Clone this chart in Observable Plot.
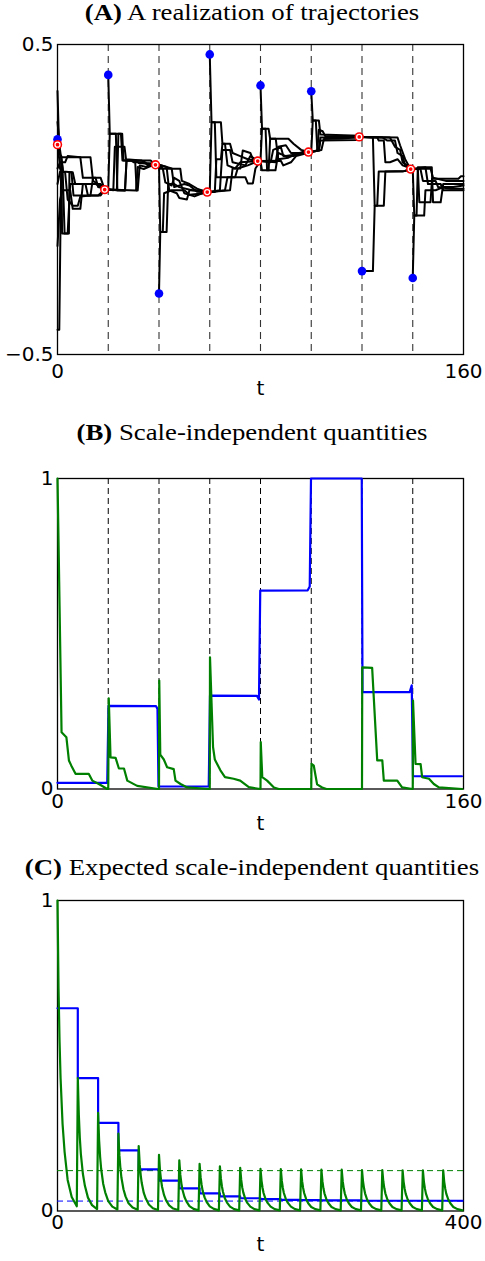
<!DOCTYPE html>
<html><head><meta charset="utf-8">
<script src="https://cdn.jsdelivr.net/npm/d3@7"></script>
<script src="https://cdn.jsdelivr.net/npm/@observablehq/plot@0.6"></script>
<style>
html,body{margin:0;padding:0;background:#fff;}
#root{position:relative;width:485px;height:1261px;overflow:hidden;background:#fff;}
.title{position:absolute;left:252px;white-space:nowrap;font-family:"Liberation Serif","Times New Roman",serif;font-size:22.5px;line-height:1;transform:translateX(-50%) scaleX(1.19);color:#000;}
.panel{position:absolute;left:0;}
</style></head><body><div id="root"></div>
<script>
// ---------- Panel A data ----------
const epochStarts = [20, 40, 60, 80, 100, 120, 140];
const xTicksA = [0, 160];
const yTicksA = [-0.5, 0.5];
const blueA = [[0,0.194],[20,0.402],[40,-0.303],[60,0.468],[80,0.368],[100,0.349],[120,-0.231],[140,-0.253]];
const redA = [[0,0.177],[18.6,0.032],[38.6,0.112],[59,0.024],[78.9,0.124],[98.9,0.153],[118.9,0.202],[139.2,0.098]];

const epochA0 = [
 [[0,0.35],[0.7,0.15],[1.6,0.136],[13,0.136],[14,0.06],[16,0.05],[18,0.04],[20,0.032]],
 [[0,-0.42],[0.7,-0.42],[1.5,0.14],[2.2,0.09],[5.5,0.088],[6.3,0.013],[17,0.013],[18.6,0.032],[20,0.032]],
 [[0,0.19],[1,0.1],[1.6,0.088],[1.8,-0.11],[4.5,-0.11],[4.7,0.088],[6,0.088],[7,0.05],[17,0.05],[18.6,0.032],[20,0.032]],
 [[0,0.05],[1,0.09],[3,0.088],[4,0.0],[6,-0.02],[8,-0.02],[9,0.01],[13,0.013],[14,0.07],[17,0.07],[18.6,0.032],[20,0.032]],
 [[0,-0.15],[1,0.0],[2,0.03],[5,0.03],[6,-0.03],[9,-0.03],[10,0.05],[15,0.05],[18.6,0.032],[20,0.032]],
 [[0,0.25],[1,0.16],[2,0.1],[2.8,-0.11],[4,-0.11],[5,0.05],[11,0.05],[12,0.013],[16,0.013],[18.6,0.032],[20,0.032]],
 [[0,0.1],[1,0.12],[3,0.12],[4,0.14],[9,0.136],[10,0.07],[15,0.07],[16,0.04],[20,0.032]]
];
const epochA1 = [
 [[20,0.402],[20.6,0.212],[25.5,0.212],[26,0.126],[36.7,0.126],[38.6,0.112],[40,0.112]],
 [[20,0.032],[20.6,0.212],[23,0.212],[23.6,0.029],[26.6,0.029],[27.2,0.126],[31,0.126],[32,0.118],[36,0.115],[38.6,0.112],[40,0.112]],
 [[20,0.032],[26.6,0.029],[27.2,0.126],[30.6,0.126],[31.2,0.029],[31.6,0.029],[32.4,0.11],[35,0.105],[36.5,0.116],[40,0.112]],
 [[20,0.032],[31,0.029],[31.6,0.105],[34,0.098],[36,0.105],[38,0.112],[40,0.112]],
 [[20,0.032],[23.4,0.03],[24,0.212],[25,0.212],[25.6,0.126],[29,0.126],[30,0.12],[34,0.12],[36,0.11],[40,0.112]],
 [[20,0.032],[22,0.03],[22.6,0.17],[26.4,0.17],[27,0.13],[33,0.126],[35,0.118],[40,0.112]]
];
const epochA2 = [
 [[40,-0.303],[40.5,-0.105],[43,-0.105],[43.6,0.05],[46,0.05],[48,0.04],[53,0.03],[57,0.025],[60,0.024]],
 [[40,0.112],[40.5,-0.105],[41.5,-0.105],[42,0.02],[45,0.03],[50,0.03],[52,0.015],[58,0.02],[60,0.024]],
 [[40,0.112],[40.5,0.099],[48.4,0.099],[49,0.06],[52,0.05],[55,0.035],[58,0.026],[60,0.024]],
 [[40,0.112],[41.5,0.1],[42.5,0.055],[45,0.045],[46,0.07],[48,0.06],[50,0.02],[54,0.01],[57,0.02],[60,0.024]],
 [[40,0.112],[43,0.105],[44,0.03],[47,0.02],[48,0.005],[51,0.0],[52,0.03],[56,0.03],[60,0.024]],
 [[40,0.112],[45,0.1],[46,0.04],[50,0.05],[52,0.045],[55,0.025],[60,0.024]]
];
const epochA3 = [
 [[60,0.468],[60.7,0.249],[64.4,0.249],[65,0.18],[68,0.18],[69,0.15],[72,0.14],[75,0.13],[79,0.124],[80,0.124]],
 [[60,0.024],[60.7,0.249],[62,0.249],[62.6,0.072],[70,0.072],[71,0.1],[75,0.11],[79,0.124],[80,0.124]],
 [[60,0.024],[62,0.024],[62.6,0.13],[64.4,0.13],[65,0.18],[66,0.18],[67,0.11],[70,0.1],[72,0.12],[80,0.124]],
 [[60,0.024],[64,0.03],[65,0.16],[68,0.16],[69,0.12],[74,0.11],[76,0.14],[78,0.13],[80,0.124]],
 [[60,0.024],[66,0.03],[67,0.072],[74,0.072],[75,0.052],[77,0.052],[78,0.1],[80,0.124]],
 [[60,0.024],[68,0.03],[69,0.1],[72,0.1],[73,0.158],[76,0.15],[77,0.13],[80,0.124]]
];
const epochA4 = [
 [[80,0.368],[80.6,0.228],[83.2,0.228],[83.8,0.196],[91,0.196],[93,0.18],[96,0.16],[99,0.153],[100,0.153]],
 [[80,0.124],[80.6,0.228],[82,0.228],[82.6,0.094],[85.9,0.094],[87,0.15],[90,0.14],[94,0.145],[100,0.153]],
 [[80,0.124],[80.6,0.094],[83.2,0.094],[83.8,0.196],[86,0.196],[87,0.13],[91,0.135],[95,0.15],[100,0.153]],
 [[80,0.124],[84,0.12],[85,0.16],[88,0.17],[89,0.14],[93,0.14],[97,0.155],[100,0.153]],
 [[80,0.124],[86,0.12],[87,0.17],[90,0.175],[92,0.15],[98,0.15],[100,0.153]],
 [[80,0.124],[88,0.125],[89,0.11],[92,0.12],[94,0.14],[100,0.153]]
];
const epochA5 = [
 [[100,0.349],[100.6,0.255],[103,0.255],[103.6,0.21],[119,0.206],[120,0.202]],
 [[100,0.153],[100.6,0.255],[101.8,0.255],[102.4,0.157],[103,0.157],[103.6,0.2],[119,0.2],[120,0.202]],
 [[100,0.153],[102.4,0.157],[103,0.225],[104.5,0.22],[105.5,0.205],[119,0.204],[120,0.202]],
 [[100,0.153],[103,0.16],[103.6,0.19],[118,0.192],[120,0.202]],
 [[100,0.153],[104,0.16],[105,0.195],[112,0.197],[120,0.202]]
];
const epochA6 = [
 [[120,-0.231],[124.3,-0.231],[125,-0.02],[128.6,-0.02],[129.2,0.09],[137,0.092],[139,0.098],[140,0.098]],
 [[120,0.202],[124.3,0.2],[125,-0.02],[126,-0.02],[126.6,0.09],[136,0.09],[138,0.095],[140,0.098]],
 [[120,0.202],[126,0.2],[126.6,0.19],[128.6,0.19],[129.2,0.12],[131,0.12],[134,0.13],[136,0.11],[140,0.098]],
 [[120,0.202],[128,0.2],[130,0.19],[133,0.19],[134,0.15],[136,0.14],[137,0.11],[140,0.098]],
 [[120,0.202],[131,0.2],[133,0.17],[135,0.16],[136,0.12],[140,0.098]],
 [[120,0.202],[134,0.2],[135,0.175],[137,0.13],[139,0.1],[140,0.098]]
];
const epochA7 = [
 [[140,-0.253],[140.6,-0.052],[144.5,-0.052],[145,0.03],[149,0.03],[152,0.04],[156,0.04],[160,0.045]],
 [[140,0.098],[140.6,-0.052],[141.5,-0.052],[142,0.104],[147.5,0.104],[148,-0.009],[151,-0.009],[152,0.05],[157,0.05],[160,0.05]],
 [[140,0.098],[142,0.1],[142.6,-0.009],[147,-0.009],[147.6,0.067],[158,0.067],[159,0.075],[160,0.075]],
 [[140,0.098],[143,0.1],[144,0.06],[149,0.06],[150,0.04],[155,0.035],[160,0.035]],
 [[140,0.098],[145,0.104],[146,0.05],[151,0.05],[152,0.03],[160,0.03]],
 [[140,0.098],[147,0.1],[148,0.07],[153,0.06],[160,0.06]]
];
const epochsA = [epochA0, epochA1, epochA2, epochA3, epochA4, epochA5, epochA6, epochA7];

// ---------- Panel B data ----------
const xTicksB = [0, 160];
const yTicksB = [0, 1];
const blueB = [[0,0.02],[19.6,0.02],[20.1,0.268],[38.8,0.267],[39.4,0.258],[39.8,0.008],[59.6,0.008],[60.1,0.301],[78.6,0.3],[79.4,0.288],[79.9,0.639],[98.6,0.64],[99.4,0.652],[99.9,1.0],[119.9,1.0],[120.2,0.312],[138.8,0.312],[139.6,0.334],[140.1,0.041],[159.4,0.041]];
const greenB0 = [[0,1.0],[0.5,0.75],[1.6,0.183],[3.5,0.167],[4.5,0.092],[5.4,0.076],[7.1,0.049],[12.3,0.049],[13.7,0.027],[16.3,0.016],[19.6,0.0]];
const greenB1 = [[20,0.0],[20.2,0.292],[20.9,0.102],[22.9,0.1],[24.2,0.066],[26.2,0.066],[27.5,0.027],[31.4,0.01],[39.6,0.0]];
const greenB2 = [[40,0.0],[40.1,0.349],[40.5,0.111],[41.9,0.095],[43.2,0.07],[45.8,0.064],[46.5,0.027],[48.5,0.016],[51.1,0.005],[59.6,0.0]];
const greenB3 = [[60,0.0],[60.1,0.424],[61.3,0.135],[62,0.095],[64.2,0.06],[66,0.038],[69.4,0.033],[72,0.027],[75.4,0.006],[79.8,0.0]];
const greenB4 = [[80,0.0],[80.1,0.151],[80.7,0.038],[82.6,0.027],[85.3,0.005],[87.2,0.0],[99.8,0.0]];
const greenB5 = [[100,0.0],[100.1,0.081],[101,0.075],[102.3,0.015],[104.3,0.005],[106,0.0],[119.8,0.0]];
const greenB6 = [[120,0.0],[120.1,0.392],[124,0.39],[126,0.092],[128,0.092],[128.6,0.027],[133.9,0.027],[135.8,0.005],[139.8,0.0]];
const greenB7 = [[140,0.0],[140.1,0.285],[141.1,0.081],[143.1,0.08],[143.7,0.038],[146.4,0.033],[148.3,0.016],[150.3,0.005],[159.5,0.0]];
const greenB = [greenB0, greenB1, greenB2, greenB3, greenB4, greenB5, greenB6, greenB7];

// ---------- Panel C data ----------
const xTicksC = [0, 400];
const yTicksC = [0, 1];
const epochTimesC = [0,20,40,60,80,100,120,140,160,180,200,220,240,260,280,300,320,340,360,380];
const blueLevelsC = [0.653,0.428,0.284,0.195,0.134,0.098,0.073,0.057,0.047,0.041,0.038,0.036,0.035,0.034,0.034,0.033,0.033,0.033,0.033,0.033];
const blueEndC = [399, 0.033];
const blueLimitC = 0.032;
const greenLimitC = 0.13;
const spikeOffsetsC = [0,1,2,3,5,7,10,14,19];
const greenSpikesC = [
 [1.0, 0.72, 0.55, 0.43, 0.28, 0.19, 0.10, 0.045, 0.015],
 [0.428, 0.31, 0.235, 0.184, 0.12, 0.081, 0.043, 0.019, 0.006],
 [0.316, 0.228, 0.174, 0.136, 0.088, 0.06, 0.032, 0.014, 0.005],
 [0.249, 0.179, 0.137, 0.107, 0.07, 0.047, 0.025, 0.011, 0.004],
 [0.209, 0.15, 0.115, 0.09, 0.058, 0.04, 0.021, 0.009, 0.003],
 [0.181, 0.13, 0.1, 0.078, 0.051, 0.034, 0.018, 0.008, 0.003],
 [0.163, 0.117, 0.09, 0.07, 0.046, 0.031, 0.016, 0.007, 0.002],
 [0.152, 0.109, 0.084, 0.065, 0.043, 0.029, 0.015, 0.007, 0.002],
 [0.144, 0.104, 0.079, 0.062, 0.04, 0.027, 0.014, 0.006, 0.002],
 [0.139, 0.1, 0.076, 0.06, 0.039, 0.026, 0.014, 0.006, 0.002],
 [0.136, 0.098, 0.075, 0.058, 0.038, 0.026, 0.014, 0.006, 0.002],
 [0.135, 0.097, 0.074, 0.058, 0.038, 0.026, 0.014, 0.006, 0.002],
 [0.134, 0.096, 0.074, 0.058, 0.038, 0.025, 0.013, 0.006, 0.002],
 [0.133, 0.096, 0.073, 0.057, 0.037, 0.025, 0.013, 0.006, 0.002],
 [0.133, 0.096, 0.073, 0.057, 0.037, 0.025, 0.013, 0.006, 0.002],
 [0.132, 0.095, 0.073, 0.057, 0.037, 0.025, 0.013, 0.006, 0.002],
 [0.132, 0.095, 0.073, 0.057, 0.037, 0.025, 0.013, 0.006, 0.002],
 [0.131, 0.094, 0.072, 0.056, 0.037, 0.025, 0.013, 0.006, 0.002],
 [0.131, 0.094, 0.072, 0.056, 0.037, 0.025, 0.013, 0.006, 0.002],
 [0.131, 0.094, 0.072, 0.056, 0.037, 0.025, 0.013, 0.006, 0.002]
];

// ---------- build ----------
const BLUE = "#0000ff", GREEN = "#008000", RED = "#ff0000";
const fmt = d => (d < 0 ? "\u2212" : "") + Math.abs(d);
const baseStyle = {fontFamily: "'DejaVu Sans', sans-serif", fontSize: "20px", background: "white", overflow: "visible", color: "black"};

const rowsA = epochsA.flatMap((ep, e) => ep.flatMap((path, i) => path.map(([t, v]) => ({t, v, id: e * 100 + i}))));
const rowsGreenB = greenB.flat().map(([t, v]) => ({t, v}));
const rowsBlueB = blueB.map(([t, v]) => ({t, v}));
const rowsBlueC = epochTimesC.map((t, k) => ({t, v: blueLevelsC[k]})).concat([{t: blueEndC[0], v: blueEndC[1]}]);
const rowsGreenC = epochTimesC.flatMap((t0, k) => greenSpikesC[k].map((v, i) => ({t: t0 + spikeOffsetsC[i], v})));

function axes(xt, yt, padX, labelDy) {
  return [
    Plot.axisY(yt, {tickSize: 0, tickPadding: 4, fontSize: 20, tickFormat: fmt, label: null}),
    Plot.axisX(xt, {tickSize: 0, tickPadding: padX, fontSize: 20, tickFormat: fmt, label: null}),
    Plot.text(["t"], {text: d => d, frameAnchor: "bottom", dy: labelDy, fontSize: 20})
  ];
}

const plotA = Plot.plot({
  width: 485, height: 385,
  marginLeft: 57, marginRight: 22, marginTop: 14, marginBottom: 61,
  x: {domain: [0, 160]}, y: {domain: [-0.5, 0.5]},
  style: baseStyle,
  marks: [
    Plot.ruleX(epochStarts, {stroke: "#333", strokeWidth: 1.1, strokeDasharray: "7,5"}),
    Plot.line(rowsA, {x: "t", y: "v", z: "id", stroke: "black", strokeWidth: 2}),
    Plot.frame({stroke: "black", strokeWidth: 1.3}),
    Plot.dot(blueA, {x: d => d[0], y: d => d[1], r: 4.3, fill: BLUE, stroke: "none"}),
    Plot.dot(redA, {x: d => d[0], y: d => d[1], r: 4.7, fill: RED, stroke: "none"}),
    Plot.dot(redA, {x: d => d[0], y: d => d[1], r: 2.5, fill: "none", stroke: "white", strokeWidth: 1.3}),
    ...axes(xTicksA, yTicksA, 9, 40)
  ]
});

const plotB = Plot.plot({
  width: 485, height: 395,
  marginLeft: 57, marginRight: 22, marginTop: 23, marginBottom: 61.5,
  x: {domain: [0, 160]}, y: {domain: [0, 1]},
  style: baseStyle,
  marks: [
    Plot.ruleX(epochStarts, {stroke: "black", strokeWidth: 1, strokeDasharray: "6,4"}),
    Plot.frame({stroke: "black", strokeWidth: 1.3}),
    Plot.line(rowsBlueB, {x: "t", y: "v", stroke: BLUE, strokeWidth: 2.2}),
    Plot.line(rowsGreenB, {x: "t", y: "v", stroke: GREEN, strokeWidth: 2.2}),
    ...axes(xTicksB, yTicksB, 5, 41)
  ]
});

const plotC = Plot.plot({
  width: 485, height: 376,
  marginLeft: 57, marginRight: 22, marginTop: 15, marginBottom: 50.5,
  x: {domain: [0, 400]}, y: {domain: [0, 1]},
  style: baseStyle,
  marks: [
    Plot.frame({stroke: "black", strokeWidth: 1.3}),
    Plot.ruleY([greenLimitC], {stroke: GREEN, strokeWidth: 1, strokeDasharray: "6,4"}),
    Plot.ruleY([blueLimitC], {stroke: BLUE, strokeWidth: 1, strokeDasharray: "6,4"}),
    Plot.line(rowsBlueC, {x: "t", y: "v", stroke: BLUE, strokeWidth: 2.2, curve: "step-after"}),
    Plot.line(rowsGreenC, {x: "t", y: "v", stroke: GREEN, strokeWidth: 2.2}),
    ...axes(xTicksC, yTicksC, 4, 40)
  ]
});

const root = document.getElementById("root");
function addTitle(top, bold, rest) {
  const d = document.createElement("div");
  d.className = "title";
  d.style.top = top + "px";
  const b = document.createElement("b");
  b.textContent = bold;
  d.appendChild(b);
  d.appendChild(document.createTextNode(" " + rest));
  root.appendChild(d);
}
function addPanel(top, svg) {
  const d = document.createElement("div");
  d.className = "panel";
  d.style.top = top + "px";
  d.appendChild(svg);
  root.appendChild(d);
}
addTitle(2, "(A)", "A realization of trajectories");
addPanel(30, plotA);
addTitle(422, "(B)", "Scale-independent quantities");
addPanel(455, plotB);
addTitle(857, "(C)", "Expected scale-independent quantities");
addPanel(885, plotC);
</script></body></html>
